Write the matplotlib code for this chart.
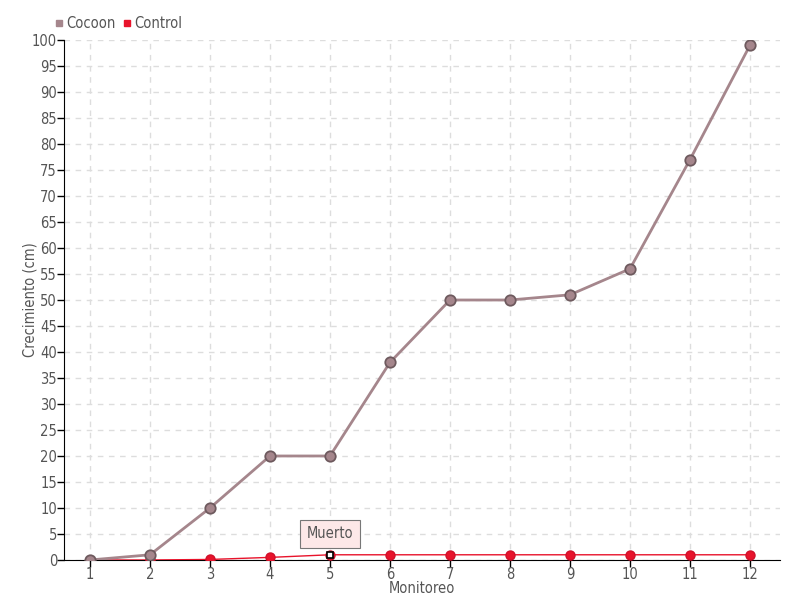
import numpy as np
import matplotlib.pyplot as plt
from matplotlib.lines import Line2D

monitoreo = [1, 2, 3, 4, 5, 6, 7, 8, 9, 10, 11, 12]
cocoon = [0, 1, 10, 20, 20, 38, 50, 50, 51, 56, 77, 99]
control = [0, 0, 0.1, 0.5, 1, 1, 1, 1, 1, 1, 1, 1]
muerto_idx = 4

plt.rcParams['font.family'] = ['DejaVu Sans']
plt.rcParams['font.stretch'] = 'condensed'
text_color = '#555555'
cocoon_color = '#a5868c'
cocoon_edge = '#6e5a5e'
control_color = '#e8132b'

fig = plt.figure(figsize=(8, 6), dpi=100)
ax = fig.add_axes([0.08, 0.0667, 0.895, 0.8666])

ax.plot(monitoreo, control, color=control_color, lw=1, marker='o', ms=6.5,
        mfc=control_color, mec='#d0102a', zorder=3)
ax.plot(monitoreo[muerto_idx], control[muerto_idx], marker='s', ms=5,
        mfc='white', mec='black', mew=1.2, zorder=5)
ax.plot(monitoreo, cocoon, color=cocoon_color, lw=2, marker='o', ms=7.5,
        mfc=cocoon_color, mec=cocoon_edge, mew=1.3, zorder=4)

ax.annotate('Muerto', xy=(monitoreo[muerto_idx], control[muerto_idx]),
            xytext=(0, 15), textcoords='offset points', ha='center', va='center',
            fontsize=10.5, color=text_color,
            bbox=dict(boxstyle='square,pad=0.45', fc='#fde8e8', ec='#777777', lw=0.8),
            arrowprops=dict(arrowstyle='-', color='#777777', lw=0.8))

ax.set_xlim(0.567, 12.5)
ax.set_ylim(0, 100)
ax.set_xticks(monitoreo)
ax.set_yticks(np.arange(0, 101, 5))
ax.grid(True, ls=(0, (4, 4)), color='#dddddd', lw=1)
ax.set_axisbelow(True)
for s in ['top', 'right']:
    ax.spines[s].set_visible(False)
ax.spines['left'].set_color('black')
ax.spines['bottom'].set_color('black')
ax.tick_params(colors=text_color, labelsize=10.5, length=5, width=1, pad=0)
ax.tick_params(axis='x', color='black')
ax.tick_params(axis='y', color='black')
ax.set_xlabel('Monitoreo', color=text_color, fontsize=10.5, labelpad=-1)
ax.set_ylabel('Crecimiento (cm)', color=text_color, fontsize=10.5, labelpad=-4)

handles = [Line2D([], [], ls='', marker='s', ms=5, color=cocoon_color),
           Line2D([], [], ls='', marker='s', ms=5, color=control_color)]
fig.legend(handles, ['Cocoon', 'Control'], loc='upper left', bbox_to_anchor=(0.052, 0.995),
           ncol=2, frameon=False, fontsize=10.5, handlelength=0.6, handletextpad=0.2,
           columnspacing=0.5, labelcolor=text_color)

fig.savefig('out.png', dpi=100)
